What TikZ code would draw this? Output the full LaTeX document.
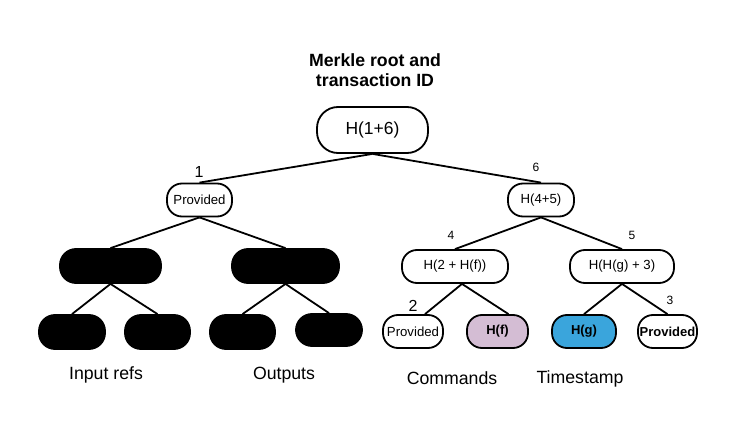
\documentclass[tikz,border=0pt]{standalone}
\usepackage{fontspec}
\setmainfont{Liberation Sans}
\definecolor{hfpurple}{HTML}{D4BDD4}
\definecolor{hgblue}{HTML}{3AA5DC}
\begin{document}
\begin{tikzpicture}[x=1pt,y=-1pt,
  box/.style={draw=black,line width=1.8pt,rounded corners=15pt,inner sep=0pt,
    font=\fontsize{13.2}{15}\selectfont},
  blk/.style={fill=black,draw=black,line width=1.8pt,rounded corners=16pt,inner sep=0pt},
  link/.style={line width=1.8pt},
  num/.style={inner sep=0pt,font=\fontsize{12}{14}\selectfont},
  bignum/.style={inner sep=0pt,font=\fontsize{16}{18}\selectfont},
  captext/.style={inner sep=0pt,font=\fontsize{17.7}{20}\selectfont}]
\useasboundingbox (0,0) rectangle (740,441);
% title
\node[align=center,inner sep=0pt,font=\fontsize{17.7}{20}\bfseries\selectfont] (title) at (375,70)
  {Merkle root and\\transaction ID};
% root
\node[box,rounded corners=21pt,minimum width=111pt,minimum height=46pt,font=\fontsize{17.5}{20}\selectfont] (root) at (372.5,130) {H(1+6)};
% level 1
\node[box,minimum width=65pt,minimum height=33pt] (p1) at (199.5,200) {Provided};
\node[box,minimum width=66pt,minimum height=33pt] (h45) at (541,200) {H(4+5)};
% left black subtree
\node[blk,minimum width=101pt,minimum height=34pt] (b1) at (110.5,266) {};
\node[blk,minimum width=107pt,minimum height=34pt] (b2) at (285.5,266) {};
\node[blk,minimum width=66pt,minimum height=34pt] (b11) at (72,332) {};
\node[blk,minimum width=65pt,minimum height=34pt] (b12) at (157.5,332) {};
\node[blk,minimum width=65pt,minimum height=34pt] (b21) at (242.5,332) {};
\node[blk,minimum width=66pt,minimum height=32pt] (b22) at (329,330) {};
% right subtree
\node[box,minimum width=106pt,minimum height=33pt] (h2f) at (455,266.5) {H(2 + H(f))};
\node[box,minimum width=104pt,minimum height=33pt] (hg3) at (622,266.5) {H(H(g) + 3)};
\node[box,minimum width=60pt,minimum height=33pt] (prov2) at (413,331.5) {Provided};
\node[box,fill=hfpurple,minimum width=61pt,minimum height=33pt,font=\fontsize{13}{15}\bfseries\selectfont] (hf) at (497.5,331.5) {H(f)};
\node[box,fill=hgblue,minimum width=64pt,minimum height=33pt,font=\fontsize{13}{15}\bfseries\selectfont] (hg) at (584,331.5) {H(g)};
\node[box,minimum width=59pt,minimum height=33pt,font=\fontsize{13}{15}\bfseries\selectfont] (prov3) at (667.5,331.5) {Provided};
% edges
\draw[link] (root.south) -- (p1.north);
\draw[link] (root.south) -- (h45.north);
\draw[link] (p1.south) -- (b1.north);
\draw[link] (p1.south) -- (b2.north);
\draw[link] (b1.south) -- (b11.north);
\draw[link] (b1.south) -- (b12.north);
\draw[link] (b2.south) -- (b21.north);
\draw[link] (b2.south) -- (b22.north);
\draw[link] (h45.south) -- (h2f.north);
\draw[link] (h45.south) -- (hg3.north);
\draw[link] ([xshift=7pt]h2f.south) -- ([xshift=12pt]prov2.north);
\draw[link] ([xshift=7pt]h2f.south) -- ([xshift=11pt]hf.north);
\draw[link] (hg3.south) -- (hg.north);
\draw[link] (hg3.south) -- (prov3.north);
% numbers
\node[bignum] (n1) at (199,172) {1};
\node[num] (n6) at (536,167) {6};
\node[num] (n4) at (451,235.5) {4};
\node[num] (n5) at (632,235.5) {5};
\node[bignum] (n2) at (413,305.5) {2};
\node[num] (n3) at (670,300) {3};
% captions
\node[captext] (c1) at (106,375) {Input refs};
\node[captext] (c2) at (284,375) {Outputs};
\node[captext] (c3) at (452,378.5) {Commands};
\node[captext] (c4) at (580,378.5) {Timestamp};
\end{tikzpicture}
\end{document}
